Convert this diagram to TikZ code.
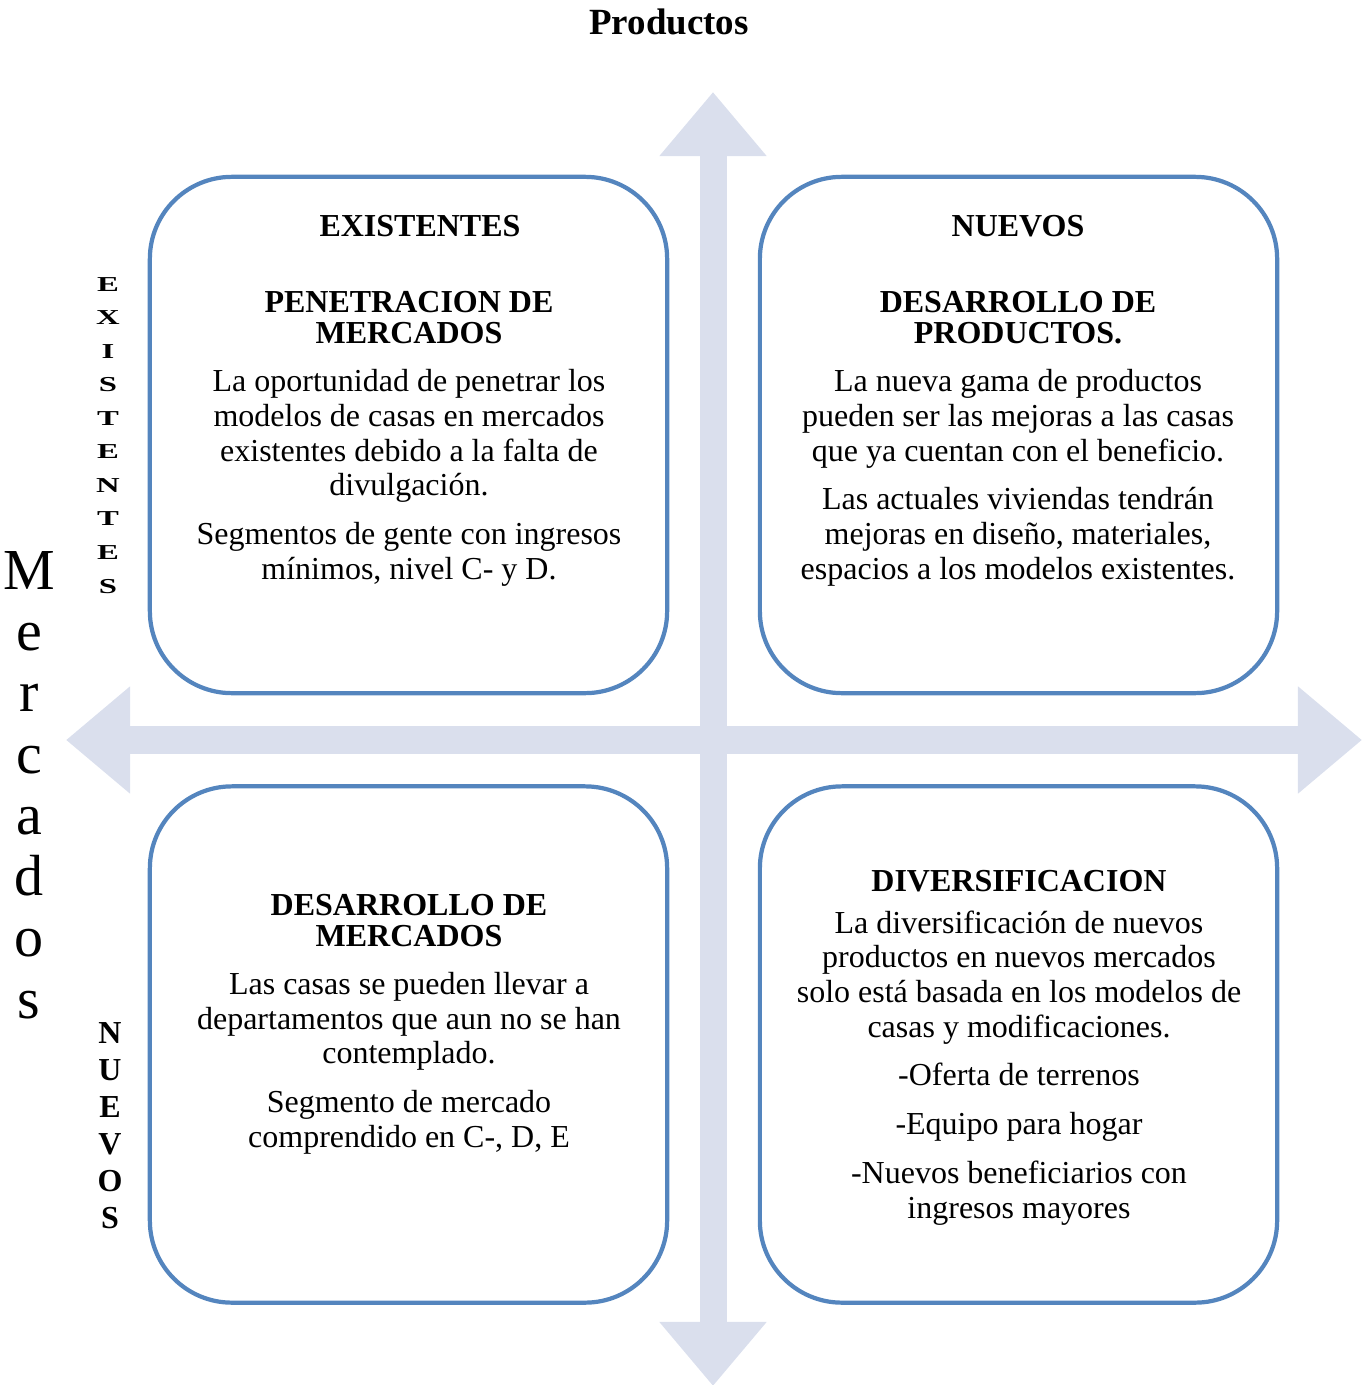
\documentclass[tikz,border=0pt]{standalone}
\usepackage{fontspec}
\setmainfont{Liberation Serif}
\usetikzlibrary{arrows.meta}
\definecolor{boxblue}{RGB}{84,133,190}
\definecolor{axisgray}{RGB}{218,223,237}

\begin{document}
\begin{tikzpicture}[x=0.01cm,y=-0.01cm,
    quad/.style={draw=boxblue,line width=1.2pt,fill=white,rounded corners=0.82cm,
        minimum width=5.17cm,minimum height=5.16cm,inner sep=0pt},
    axisarrow/.style={draw=axisgray,line width=0.27cm,
        {Triangle[width=1.03cm,length=0.64cm]}-{Triangle[width=1.03cm,length=0.64cm]}},
    bodytext/.style={align=center,inner sep=0pt,anchor=base,
        font=\fontsize{9.1}{9.85}\selectfont},
    headline/.style={align=center,inner sep=0pt,anchor=base,
        font=\bfseries\fontsize{9.1}{8.8}\selectfont}]
    \useasboundingbox (0,0) rectangle (1370,1385);
    % axes
    \coordinate (ptop) at (713,92);
    \coordinate (pbot) at (713,1386);
    \coordinate (mleft) at (66,740);
    \coordinate (mright) at (1362,740);
    \draw[axisarrow] (pbot) -- (ptop);
    \draw[axisarrow] (mleft) -- (mright);
    % quadrants
    \node[quad] (pen) at (408.5,435) {};
    \node[quad] (dprod) at (1018.5,435) {};
    \node[quad] (dmerc) at (408.5,1044.5) {};
    \node[quad] (divers) at (1018.5,1044.5) {};
    % labels outside (base = last line)
    \node[headline,font=\bfseries\fontsize{10.5}{12}\selectfont] (productos) at (669,35) {Productos};
    \node[bodytext,font=\fontsize{16.5}{17.41}\selectfont] (mercados) at (29,1018)
        {M\\e\\r\\c\\a\\d\\o\\s};
    \begin{scope}[shift={(108,593)},yscale=0.65]
        \node[headline,transform shape,font=\bfseries\fontsize{9.3}{14.66}\selectfont] (rowexist) at (0,0)
            {E\\X\\I\\S\\T\\E\\N\\T\\E\\S};
    \end{scope}
    \node[headline,font=\bfseries\fontsize{9.1}{10.5}\selectfont] (rownuevos) at (110,1228)
        {N\\U\\E\\V\\O\\S};
    % top left
    \node[headline] (colexist) at (420,237) {EXISTENTES};
    \node[headline] (penhead) at (409,343) {PENETRACION DE\\MERCADOS};
    \node[bodytext] (pentext) at (409,579) {La oportunidad de penetrar los\\
        modelos de casas en mercados\\existentes debido a la falta de\\divulgación.\\[4pt]
        Segmentos de gente con ingresos\\mínimos, nivel C- y D.};
    % top right
    \node[headline] (colnuevos) at (1018,237) {NUEVOS};
    \node[headline] (dprodhead) at (1018,343) {DESARROLLO DE\\PRODUCTOS.};
    \node[bodytext] (dprodtext) at (1018,579) {La nueva gama de productos\\
        pueden ser las mejoras a las casas\\que ya cuentan con el beneficio.\\[4pt]
        Las actuales viviendas tendrán\\mejoras en diseño, materiales,\\
        espacios a los modelos existentes.};
    % bottom left
    \node[headline] (dmerchead) at (409,946) {DESARROLLO DE\\MERCADOS};
    \node[bodytext] (dmerctext) at (409,1147) {Las casas se pueden llevar a\\
        departamentos que aun no se han\\contemplado.\\[4pt]
        Segmento de mercado\\comprendido en C-, D, E};
    % bottom right
    \node[headline] (divhead) at (1019,891) {DIVERSIFICACION};
    \node[bodytext] (divtext) at (1019,1218) {La diversificación de nuevos\\
        productos en nuevos mercados\\solo está basada en los modelos de\\
        casas y modificaciones.\\[4pt]
        -Oferta de terrenos\\[4pt]
        -Equipo para hogar\\[4pt]
        -Nuevos beneficiarios con\\ingresos mayores};
\end{tikzpicture}
\end{document}
